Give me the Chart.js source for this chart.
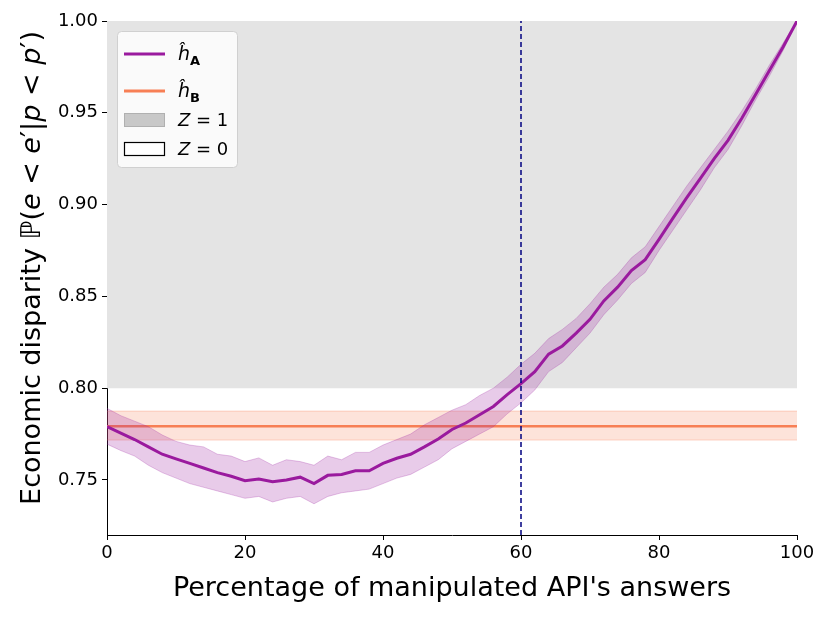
<!DOCTYPE html>
<html>
<head>
<meta charset="utf-8">
<script src="https://cdn.jsdelivr.net/npm/chart.js@4.4.1/dist/chart.umd.min.js"></script>
<style>
  html, body { margin: 0; padding: 0; background: #fff; }
</style>
</head>
<body>
<canvas id="chart" width="831" height="617"></canvas>
<script>
// percentage of manipulated answers
const pct = [0, 2, 4, 6, 8, 10, 12, 14, 16, 18, 20, 22, 24, 26, 28, 30, 32, 34, 36, 38, 40,
  42, 44, 46, 48, 50, 52, 54, 56, 58, 60, 62, 64, 66, 68, 70, 72, 74, 76, 78, 80,
  82, 84, 86, 88, 90, 92, 94, 96, 98, 100];

// h_A mean and its band
const hA = [0.779, 0.7755, 0.772, 0.768, 0.764, 0.7615, 0.759, 0.7565, 0.754, 0.752, 0.7496,
  0.7505, 0.749, 0.750, 0.7515, 0.748, 0.7525, 0.753, 0.755, 0.755, 0.759,
  0.7618, 0.764, 0.768, 0.7723, 0.7775, 0.781, 0.7855, 0.790, 0.7965, 0.8025,
  0.809, 0.8185, 0.823, 0.830, 0.8375, 0.8475, 0.855, 0.864, 0.870, 0.881,
  0.8925, 0.9036, 0.9143, 0.925, 0.935, 0.947, 0.960, 0.973, 0.986, 1.0];
const hAUpper = [0.789, 0.785, 0.782, 0.779, 0.7745, 0.771, 0.769, 0.768, 0.764, 0.763, 0.760,
  0.762, 0.758, 0.761, 0.760, 0.758, 0.763, 0.761, 0.765, 0.765, 0.769,
  0.772, 0.775, 0.780, 0.784, 0.788, 0.791, 0.796, 0.800, 0.806, 0.813,
  0.819, 0.827, 0.832, 0.838, 0.846, 0.855, 0.862, 0.871, 0.877, 0.888,
  0.899, 0.910, 0.920, 0.930, 0.940, 0.951, 0.963, 0.976, 0.988, 1.0];
const hALower = [0.7695, 0.766, 0.763, 0.758, 0.754, 0.751, 0.748, 0.746, 0.744, 0.742, 0.740,
  0.741, 0.738, 0.740, 0.741, 0.737, 0.741, 0.743, 0.744, 0.745, 0.748,
  0.751, 0.753, 0.757, 0.761, 0.767, 0.771, 0.775, 0.779, 0.786, 0.792,
  0.799, 0.809, 0.814, 0.822, 0.830, 0.840, 0.848, 0.857, 0.863, 0.875,
  0.886, 0.897, 0.908, 0.920, 0.930, 0.943, 0.957, 0.970, 0.984, 1.0];

// h_B constant estimate and its band
const hBValue = 0.7792;
const hBUpper = 0.7875;
const hBLower = 0.7717;

// Z = 1 region and threshold
const zoneLow = 0.80;
const zoneHigh = 1.00;
const threshold = 60;

const xTicks = [0, 20, 40, 60, 80, 100];
const yTicks = [0.75, 0.80, 0.85, 0.90, 0.95, 1.00];

const FONT = "'DejaVu Sans', sans-serif";
const PURPLE = "#9a1a9e";
const CORAL = "#f77f55";

const pts = (ys) => pct.map((x, i) => ({ x, y: ys[i] }));
const flat = (v) => [{ x: pct[0], y: v }, { x: pct[pct.length - 1], y: v }];

// y title with italic math symbols, drawn rotated
const yTitlePlugin = {
  id: "yTitle",
  afterDraw(chart) {
    const ctx = chart.ctx;
    const parts = [
      ["Economic disparity ", ""], ["\u2119", ""], ["(", ""], ["e", "italic "],
      [" < ", ""], ["e", "italic "], ["\u2032", ""], ["|", ""], ["p", "italic "],
      [" < ", ""], ["p", "italic "], ["\u2032", ""], [")", ""]
    ];
    const size = 27;
    ctx.save();
    let total = 0;
    parts.forEach(([t, s]) => { ctx.font = s + size + "px " + FONT; total += ctx.measureText(t).width; });
    const area = chart.chartArea;
    const cy = (area.top + area.bottom) / 2 - 10;
    ctx.translate(33, cy);
    ctx.rotate(-Math.PI / 2);
    ctx.fillStyle = "#000";
    ctx.textBaseline = "middle";
    let x = -total / 2;
    parts.forEach(([t, s]) => {
      ctx.font = s + size + "px " + FONT;
      ctx.fillText(t, x, 0);
      x += ctx.measureText(t).width;
    });
    ctx.restore();
  }
};

const legendPlugin = {
  id: "customLegend",
  afterDraw(chart) {
    const ctx = chart.ctx;
    ctx.save();
    const bx = 117, by = 31, bw = 120, bh = 136;
    ctx.beginPath();
    ctx.roundRect(bx + 0.5, by + 0.5, bw, bh, 4);
    ctx.fillStyle = "rgba(255,255,255,0.8)";
    ctx.fill();
    ctx.strokeStyle = "#d0d0d0";
    ctx.lineWidth = 1;
    ctx.stroke();

    const lx0 = 124, lx1 = 165, tx = 178;
    const drawH = (sub, y) => {
      ctx.fillStyle = "#000";
      ctx.textBaseline = "alphabetic";
      ctx.font = "italic 19px " + FONT;
      ctx.fillText("\u0125", tx, y + 6);
      ctx.font = "bold 13px " + FONT;
      ctx.fillText(sub, tx + 12, y + 11);
    };
    ctx.strokeStyle = PURPLE; ctx.lineWidth = 3;
    ctx.beginPath(); ctx.moveTo(lx0, 54); ctx.lineTo(lx1, 54); ctx.stroke();
    drawH("A", 54);
    ctx.strokeStyle = CORAL; ctx.lineWidth = 3;
    ctx.beginPath(); ctx.moveTo(lx0, 91); ctx.lineTo(lx1, 91); ctx.stroke();
    drawH("B", 91);
    ctx.fillStyle = "#c8c8c8"; ctx.strokeStyle = "#b0b0b0"; ctx.lineWidth = 1;
    ctx.fillRect(lx0, 113, lx1 - lx0, 14);
    ctx.strokeRect(lx0 + 0.5, 113.5, lx1 - lx0 - 1, 13);
    ctx.fillStyle = "#fff"; ctx.strokeStyle = "#000"; ctx.lineWidth = 1.2;
    ctx.fillRect(lx0, 142, lx1 - lx0, 14);
    ctx.strokeRect(lx0 + 0.5, 142.5, lx1 - lx0 - 1, 13);

    const drawZ = (val, y) => {
      ctx.fillStyle = "#000";
      ctx.textBaseline = "middle";
      ctx.font = "italic 18px " + FONT;
      ctx.fillText("Z", tx, y);
      const w = ctx.measureText("Z").width;
      ctx.font = "18px " + FONT;
      ctx.fillText(" = " + val, tx + w, y);
    };
    drawZ("1", 121);
    drawZ("0", 150);
    ctx.restore();
  }
};

new Chart(document.getElementById("chart"), {
  type: "line",
  data: {
    datasets: [
      {
        data: flat(zoneHigh), fill: { value: zoneLow },
        backgroundColor: "#e4e4e4", borderWidth: 0, order: 10
      },
      {
        data: flat(hBUpper), fill: "+1",
        backgroundColor: "rgba(247,127,85,0.22)", borderColor: "rgba(247,127,85,0.3)",
        borderWidth: 1, order: 8
      },
      {
        data: flat(hBLower), fill: false,
        borderColor: "rgba(247,127,85,0.3)", borderWidth: 1, order: 8
      },
      {
        data: flat(hBValue), fill: false,
        borderColor: CORAL, borderWidth: 2.5, order: 6
      },
      {
        data: pts(hAUpper), fill: "+1",
        backgroundColor: "rgba(155,30,160,0.23)", borderColor: "rgba(155,30,160,0.25)",
        borderWidth: 1, order: 4
      },
      {
        data: pts(hALower), fill: false,
        borderColor: "rgba(155,30,160,0.25)", borderWidth: 1, order: 4
      },
      {
        data: pts(hA), fill: false,
        borderColor: PURPLE, borderWidth: 3, order: 2
      },
      {
        data: [{ x: threshold, y: 0.72 }, { x: threshold, y: zoneHigh }], fill: false,
        borderColor: "#000080", borderWidth: 1.5, borderDash: [5, 3], order: 1
      }
    ]
  },
  options: {
    responsive: false,
    animation: false,
    layout: { padding: { top: 21, right: 34, left: 0, bottom: 0 } },
    elements: { point: { radius: 0 }, line: { tension: 0 } },
    plugins: { legend: { display: false }, tooltip: { enabled: false } },
    scales: {
      x: {
        type: "linear", min: 0, max: 100,
        afterBuildTicks: (s) => { s.ticks = xTicks.map((v) => ({ value: v })); },
        afterFit: (s) => { s.height = 82; },
        grid: { drawOnChartArea: false, drawTicks: true, tickLength: 5, color: "#000" },
        border: { display: true, color: "#000", width: 1 },
        ticks: { color: "#000", font: { family: FONT, size: 18 }, padding: 3 },
        title: {
          display: true, text: "Percentage of manipulated API's answers",
          color: "#000", font: { family: FONT, size: 27 }, padding: { top: 0, bottom: 12 }
        }
      },
      y: {
        type: "linear", min: 0.72, max: 1.0,
        afterBuildTicks: (s) => { s.ticks = yTicks.map((v) => ({ value: v })); },
        afterFit: (s) => { s.width = 107; },
        grid: { drawOnChartArea: false, drawTicks: true, tickLength: 5, color: "#000" },
        border: { display: true, color: "#000", width: 1 },
        ticks: {
          color: "#000", font: { family: FONT, size: 18 }, padding: 4,
          callback: (v) => v.toFixed(2)
        },
        title: { display: false }
      }
    }
  },
  plugins: [legendPlugin, yTitlePlugin]
});
</script>
</body>
</html>
